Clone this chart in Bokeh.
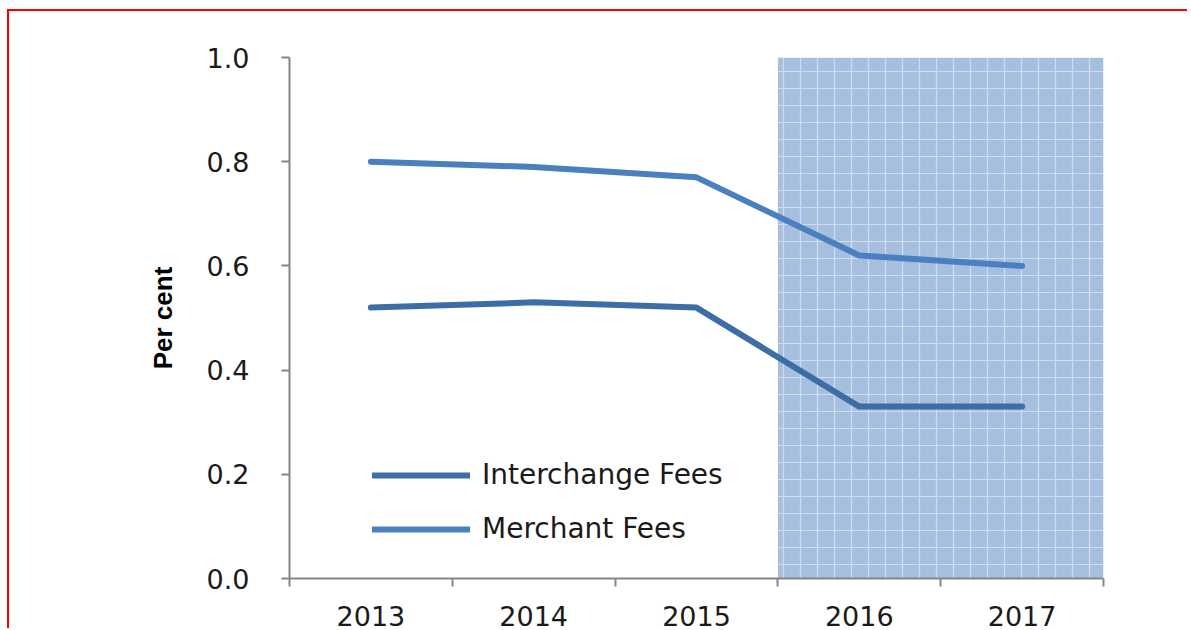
from bokeh.plotting import figure
from bokeh.models import (ColumnDataSource, Range1d, FixedTicker, NumeralTickFormatter,
                          Legend, LegendItem)
from bokeh.embed import file_html
from bokeh.resources import INLINE

# ---- data ----
years = ["2013", "2014", "2015", "2016", "2017"]
interchange_fees = [0.52, 0.53, 0.52, 0.33, 0.33]
merchant_fees = [0.80, 0.79, 0.77, 0.62, 0.60]
forecast_years = ["2016", "2017"]
y_ticks = [0.0, 0.2, 0.4, 0.6, 0.8, 1.0]

n = len(years)
xs = [i + 0.5 for i in range(n)]
src = ColumnDataSource(dict(x=xs, inter=interchange_fees, merch=merchant_fees))

p = figure(width=1180, height=619, output_backend="svg", toolbar_location=None,
           x_range=Range1d(0, n), y_range=Range1d(y_ticks[0], y_ticks[-1]),
           min_border_left=280, min_border_right=86, min_border_top=46,
           min_border_bottom=52)
p.styles = {"box-shadow": "-2px -2px 0 0 #ff0000",
            "margin-left": "9px", "margin-top": "11px"}
p.outline_line_color = None
p.xgrid.visible = False
p.ygrid.visible = False

# shaded forecast region
f0 = years.index(forecast_years[0])
f1 = years.index(forecast_years[-1]) + 1
p.quad(left=[f0], right=[f1], bottom=[y_ticks[0]], top=[y_ticks[-1]],
       fill_color="#a7bfde", line_color=None,
       hatch_pattern="+", hatch_color="white", hatch_alpha=0.45,
       hatch_scale=17, hatch_weight=1.2)

r_inter = p.line("x", "inter", source=src, line_color="#3d6da6", line_width=6,
                 line_cap="round", line_join="round")
r_merch = p.line("x", "merch", source=src, line_color="#4a7fc0", line_width=6,
                 line_cap="round", line_join="round")

font = "DejaVu Sans"
# axes
for ax in (p.xaxis[0], p.yaxis[0]):
    ax.axis_line_color = "#868686"
    ax.axis_line_width = 2
    ax.major_tick_line_color = "#868686"
    ax.major_tick_line_width = 2
    ax.minor_tick_line_color = "#868686"
    ax.minor_tick_line_width = 2
    ax.major_label_text_font = font
    ax.major_label_text_font_size = "27px"
    ax.major_label_text_color = "#1a1a1a"

p.xaxis.ticker = FixedTicker(ticks=xs, minor_ticks=list(range(n + 1)))
p.xaxis.major_label_overrides = {x: y for x, y in zip(xs, years)}
p.xaxis.major_tick_out = 0
p.xaxis.major_tick_in = 0
p.xaxis.minor_tick_out = 8
p.xaxis.minor_tick_in = 0
p.xaxis.major_label_standoff = 19

p.yaxis.ticker = FixedTicker(ticks=y_ticks, minor_ticks=[])
p.yaxis.formatter = NumeralTickFormatter(format="0.0")
p.yaxis.major_tick_out = 8
p.yaxis.major_tick_in = 0
p.yaxis.major_label_standoff = 32
p.yaxis.axis_label = "Per cent"
p.yaxis.axis_label_text_font = "Liberation Sans"
p.yaxis.axis_label_text_font_style = "bold"
p.yaxis.axis_label_text_font_size = "26px"
p.yaxis.axis_label_text_color = "#000000"
p.yaxis.axis_label_standoff = 26

legend = Legend(items=[LegendItem(label="Interchange Fees", renderers=[r_inter]),
                       LegendItem(label="Merchant Fees", renderers=[r_merch])],
                location=(83, 33), padding=0, margin=0,
                border_line_alpha=0, background_fill_alpha=0,
                glyph_width=98, glyph_height=32, label_height=32, spacing=21,
                label_standoff=12, label_text_font=font,
                label_text_font_size="28px", label_text_color="#1a1a1a")
p.add_layout(legend)

open("out.html", "w").write(file_html(p, INLINE))
